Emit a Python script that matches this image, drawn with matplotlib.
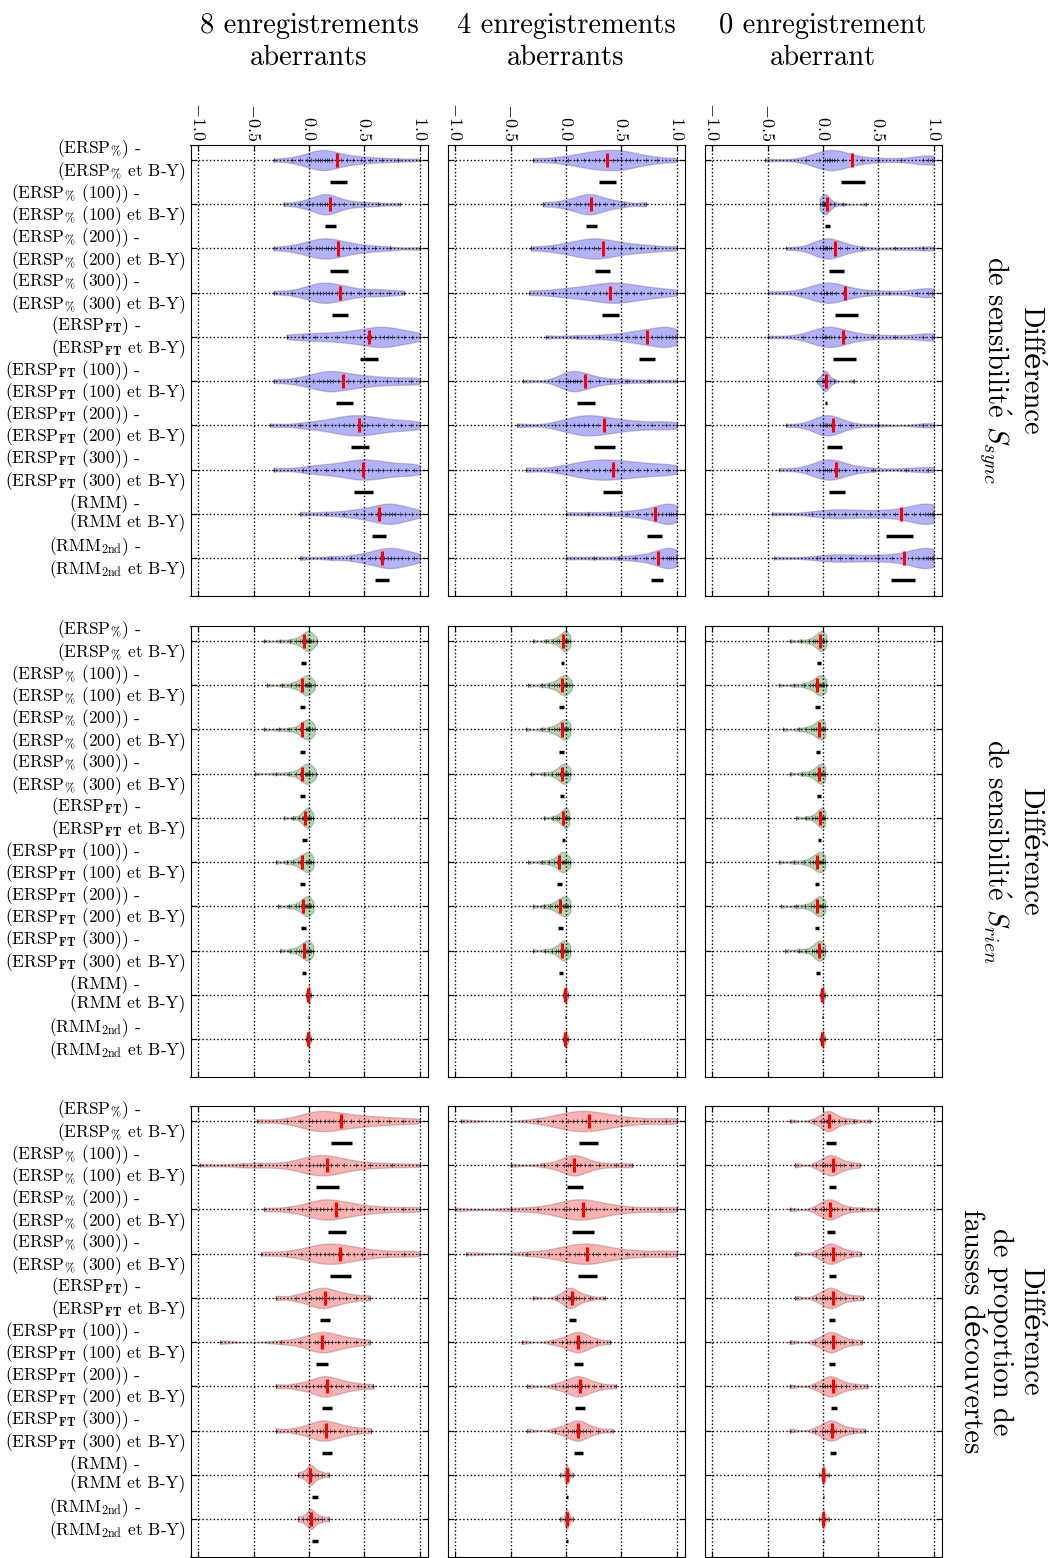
import numpy as np
import matplotlib.pyplot as plt
from matplotlib.transforms import ScaledTranslation

plt.rcParams['font.family'] = ['cmr10', 'DejaVu Serif']
plt.rcParams['mathtext.fontset'] = 'cm'
plt.rcParams['axes.formatter.use_mathtext'] = True

col_titles = ['8 enregistrements\naberrants', '4 enregistrements\naberrants', '0 enregistrement\naberrant']
row_titles = ['Différence\nde sensibilit$\\acute{\\mathrm{e}}$ $S_{sync}$',
              'Différence\nde sensibilit$\\acute{\\mathrm{e}}$ $S_{rien}$',
              'Différence\nde proportion de\nfausses découvertes']
methods = [r'ERSP$_{\%}$', r'ERSP$_{\%}$ (100)', r'ERSP$_{\%}$ (200)', r'ERSP$_{\%}$ (300)',
           r'ERSP$_{\mathbf{FT}}$', r'ERSP$_{\mathbf{FT}}$ (100)', r'ERSP$_{\mathbf{FT}}$ (200)',
           r'ERSP$_{\mathbf{FT}}$ (300)', 'RMM', r'RMM$_{\mathrm{2nd}}$']

# --- sensibilite S_sync ---
sync_8 = [
    [-0.32, -0.15, -0.08, -0.02, 0.02, 0.05, 0.08, 0.1, 0.12, 0.14, 0.16, 0.18, 0.21, 0.25, 0.29, 0.34, 0.4, 0.47, 0.55, 0.66, 0.8, 1.0],
    [-0.23, -0.08, -0.02, 0.03, 0.07, 0.1, 0.12, 0.14, 0.16, 0.18, 0.2, 0.23, 0.27, 0.32, 0.4, 0.5, 0.62, 0.82],
    [-0.32, -0.16, -0.08, -0.02, 0.02, 0.06, 0.09, 0.12, 0.15, 0.17, 0.2, 0.23, 0.27, 0.31, 0.36, 0.42, 0.5, 0.6, 0.73, 1.0],
    [-0.32, -0.15, -0.06, 0.0, 0.04, 0.07, 0.1, 0.13, 0.15, 0.18, 0.21, 0.25, 0.29, 0.33, 0.38, 0.45, 0.55, 0.64, 0.72, 0.86],
    [-0.2, -0.05, 0.05, 0.15, 0.25, 0.33, 0.4, 0.46, 0.52, 0.56, 0.6, 0.64, 0.68, 0.71, 0.75, 0.8, 0.86, 0.93, 1.0],
    [-0.32, -0.12, -0.03, 0.04, 0.09, 0.13, 0.16, 0.19, 0.22, 0.26, 0.3, 0.35, 0.4, 0.46, 0.53, 0.6, 0.7, 0.8, 0.92, 1.0],
    [-0.35, -0.08, 0.05, 0.14, 0.21, 0.27, 0.32, 0.36, 0.4, 0.44, 0.48, 0.52, 0.57, 0.62, 0.68, 0.75, 0.83, 0.92, 1.0],
    [-0.32, -0.05, 0.06, 0.15, 0.23, 0.3, 0.36, 0.41, 0.45, 0.49, 0.53, 0.57, 0.62, 0.67, 0.73, 0.8, 0.88, 0.95, 1.0],
    [-0.08, 0.15, 0.32, 0.42, 0.5, 0.56, 0.61, 0.65, 0.69, 0.72, 0.75, 0.78, 0.82, 0.87, 0.93, 1.0],
    [-0.08, 0.2, 0.38, 0.48, 0.55, 0.6, 0.64, 0.68, 0.71, 0.74, 0.77, 0.8, 0.84, 0.89, 0.95, 1.0],
]
sync_8_mean = [0.25, 0.19, 0.26, 0.28, 0.54, 0.31, 0.45, 0.49, 0.63, 0.66]
sync_8_lo = [0.19, 0.145, 0.19, 0.21, 0.46, 0.24, 0.38, 0.41, 0.565, 0.595]
sync_8_hi = [0.34, 0.245, 0.35, 0.35, 0.62, 0.40, 0.54, 0.58, 0.695, 0.725]

sync_4 = [
    [-0.3, -0.1, 0.02, 0.1, 0.16, 0.21, 0.26, 0.3, 0.34, 0.38, 0.42, 0.46, 0.5, 0.54, 0.58, 0.64, 0.72, 0.82, 1.0],
    [-0.21, -0.06, 0.03, 0.09, 0.13, 0.17, 0.2, 0.23, 0.26, 0.3, 0.35, 0.42, 0.52, 0.72],
    [-0.32, -0.12, -0.02, 0.06, 0.12, 0.17, 0.21, 0.25, 0.29, 0.33, 0.38, 0.43, 0.5, 0.58, 0.68, 0.8, 1.0],
    [-0.33, -0.12, 0.0, 0.1, 0.18, 0.25, 0.31, 0.36, 0.41, 0.45, 0.5, 0.55, 0.61, 0.68, 0.76, 0.86, 1.0],
    [-0.18, 0.1, 0.3, 0.45, 0.55, 0.62, 0.68, 0.73, 0.78, 0.82, 0.86, 0.9, 0.93, 0.96, 0.98, 1.0],
    [-0.39, -0.06, 0.0, 0.02, 0.04, 0.06, 0.08, 0.1, 0.13, 0.17, 0.22, 0.3, 0.4, 0.55, 0.75, 1.0],
    [-0.44, -0.1, 0.0, 0.07, 0.12, 0.16, 0.2, 0.24, 0.29, 0.34, 0.4, 0.47, 0.55, 0.65, 0.78, 0.9, 1.0],
    [-0.36, -0.08, 0.05, 0.13, 0.19, 0.25, 0.3, 0.35, 0.4, 0.46, 0.52, 0.58, 0.65, 0.73, 0.82, 0.92, 1.0],
    [0.0, 0.2, 0.4, 0.55, 0.65, 0.72, 0.78, 0.83, 0.87, 0.9, 0.93, 0.95, 0.97, 0.99, 1.0],
    [0.0, 0.25, 0.48, 0.62, 0.72, 0.79, 0.84, 0.88, 0.91, 0.93, 0.95, 0.97, 0.99, 1.0],
]
sync_4_mean = [0.37, 0.23, 0.33, 0.40, 0.73, 0.17, 0.34, 0.42, 0.80, 0.83]
sync_4_lo = [0.30, 0.18, 0.265, 0.325, 0.66, 0.10, 0.25, 0.33, 0.73, 0.77]
sync_4_hi = [0.45, 0.28, 0.40, 0.48, 0.80, 0.26, 0.44, 0.51, 0.87, 0.88]

sync_0 = [
    [-0.52, -0.15, -0.04, 0.02, 0.04, 0.05, 0.06, 0.08, 0.1, 0.13, 0.18, 0.25, 0.35, 0.5, 0.7, 0.9, 0.95, 0.98, 1.0],
    [-0.03, -0.01, 0.0, 0.01, 0.01, 0.02, 0.02, 0.03, 0.04, 0.06, 0.1, 0.18, 0.39],
    [-0.33, -0.1, -0.03, 0.0, 0.02, 0.03, 0.04, 0.05, 0.07, 0.1, 0.15, 0.22, 0.35, 0.65, 0.9, 1.0],
    [-0.5, -0.2, -0.08, -0.02, 0.01, 0.03, 0.04, 0.06, 0.08, 0.12, 0.18, 0.28, 0.4, 0.6, 0.85, 0.95, 0.98, 1.0],
    [-0.5, -0.18, -0.06, -0.01, 0.02, 0.03, 0.05, 0.07, 0.1, 0.14, 0.2, 0.3, 0.45, 0.65, 0.9, 0.98, 1.0],
    [-0.05, -0.01, 0.0, 0.01, 0.02, 0.02, 0.03, 0.04, 0.06, 0.1, 0.28],
    [-0.33, -0.1, -0.03, 0.0, 0.02, 0.03, 0.04, 0.05, 0.07, 0.1, 0.15, 0.25, 0.5, 0.9, 1.0],
    [-0.4, -0.14, -0.04, 0.0, 0.02, 0.04, 0.05, 0.07, 0.1, 0.14, 0.2, 0.3, 0.45, 0.75, 0.95, 1.0],
    [-0.46, -0.1, 0.05, 0.1, 0.2, 0.3, 0.42, 0.55, 0.65, 0.75, 0.82, 0.88, 0.92, 0.95, 0.97, 0.98, 0.99, 1.0],
    [-0.44, -0.05, 0.07, 0.15, 0.25, 0.38, 0.5, 0.62, 0.72, 0.8, 0.86, 0.9, 0.93, 0.95, 0.97, 0.98, 0.99, 1.0],
]
sync_0_mean = [0.26, 0.04, 0.11, 0.20, 0.18, 0.03, 0.09, 0.12, 0.70, 0.73]
sync_0_lo = [0.16, 0.02, 0.05, 0.11, 0.09, 0.02, 0.04, 0.05, 0.57, 0.61]
sync_0_hi = [0.38, 0.06, 0.19, 0.32, 0.30, 0.04, 0.17, 0.20, 0.81, 0.83]

# --- sensibilite S_rien ---
rien_8 = [
    [-0.41, -0.26, -0.17, -0.12, -0.08, -0.06, -0.04, -0.03, -0.02, -0.01, 0.0, 0.0, 0.01, 0.02, 0.04, 0.07],
    [-0.38, -0.24, -0.16, -0.12, -0.09, -0.07, -0.05, -0.04, -0.03, -0.02, -0.01, 0.0, 0.01, 0.02, 0.05],
    [-0.41, -0.27, -0.18, -0.12, -0.08, -0.06, -0.05, -0.03, -0.02, -0.01, 0.0, 0.0, 0.01, 0.03, 0.05],
    [-0.49, -0.3, -0.18, -0.12, -0.08, -0.06, -0.04, -0.03, -0.02, -0.01, 0.0, 0.0, 0.01, 0.03, 0.06],
    [-0.23, -0.14, -0.09, -0.06, -0.05, -0.04, -0.03, -0.02, -0.01, 0.0, 0.0, 0.01, 0.02, 0.04],
    [-0.3, -0.2, -0.14, -0.1, -0.08, -0.06, -0.05, -0.03, -0.02, -0.01, 0.0, 0.01, 0.02, 0.04],
    [-0.28, -0.18, -0.12, -0.09, -0.07, -0.05, -0.04, -0.03, -0.02, -0.01, 0.0, 0.01, 0.02, 0.04],
    [-0.26, -0.17, -0.12, -0.09, -0.07, -0.05, -0.04, -0.03, -0.02, -0.01, 0.0, 0.01, 0.02, 0.04],
    [-0.03, -0.02, -0.01, -0.01, 0.0, 0.0, 0.0, 0.01, 0.02],
    [-0.03, -0.02, -0.01, -0.01, 0.0, 0.0, 0.0, 0.01, 0.02],
]
rien_8_mean = [-0.045, -0.06, -0.06, -0.06, -0.035, -0.06, -0.05, -0.045, -0.005, -0.005]
rien_8_lo = [-0.07, -0.08, -0.08, -0.08, -0.06, -0.08, -0.07, -0.065, -0.01, -0.01]
rien_8_hi = [-0.03, -0.04, -0.04, -0.04, -0.02, -0.04, -0.03, -0.03, 0.0, 0.0]

rien_4 = [
    [-0.3, -0.18, -0.12, -0.08, -0.06, -0.04, -0.03, -0.02, -0.01, 0.0, 0.0, 0.01, 0.02, 0.04],
    [-0.34, -0.22, -0.15, -0.11, -0.08, -0.06, -0.04, -0.03, -0.02, -0.01, 0.0, 0.01, 0.03, 0.05],
    [-0.36, -0.22, -0.15, -0.11, -0.08, -0.06, -0.04, -0.03, -0.02, -0.01, 0.0, 0.01, 0.02, 0.04],
    [-0.32, -0.2, -0.13, -0.09, -0.07, -0.05, -0.04, -0.03, -0.02, -0.01, 0.0, 0.01, 0.02, 0.04],
    [-0.2, -0.12, -0.08, -0.06, -0.04, -0.03, -0.02, -0.01, 0.0, 0.0, 0.01, 0.02, 0.03],
    [-0.34, -0.22, -0.15, -0.11, -0.08, -0.06, -0.05, -0.04, -0.03, -0.02, -0.01, 0.0, 0.02, 0.04],
    [-0.3, -0.2, -0.14, -0.1, -0.08, -0.06, -0.05, -0.03, -0.02, -0.01, 0.0, 0.01, 0.02, 0.04],
    [-0.3, -0.19, -0.13, -0.09, -0.07, -0.05, -0.04, -0.03, -0.02, -0.01, 0.0, 0.01, 0.02, 0.04],
    [-0.03, -0.02, -0.01, -0.01, 0.0, 0.0, 0.0, 0.01, 0.02],
    [-0.03, -0.02, -0.01, -0.01, 0.0, 0.0, 0.0, 0.01, 0.02],
]
rien_4_mean = [-0.03, -0.04, -0.04, -0.035, -0.025, -0.06, -0.05, -0.04, -0.005, -0.005]
rien_4_lo = [-0.045, -0.06, -0.06, -0.05, -0.04, -0.08, -0.07, -0.06, -0.01, -0.01]
rien_4_hi = [-0.015, -0.02, -0.02, -0.02, -0.01, -0.04, -0.03, -0.025, 0.0, 0.0]

rien_0 = [
    [-0.3, -0.2, -0.13, -0.09, -0.07, -0.05, -0.04, -0.03, -0.02, -0.01, 0.0, 0.0, 0.01, 0.03],
    [-0.4, -0.26, -0.17, -0.12, -0.09, -0.07, -0.05, -0.04, -0.03, -0.02, -0.01, 0.0, 0.01, 0.03],
    [-0.36, -0.22, -0.15, -0.11, -0.08, -0.06, -0.04, -0.03, -0.02, -0.01, 0.0, 0.01, 0.02],
    [-0.3, -0.19, -0.13, -0.09, -0.07, -0.05, -0.04, -0.03, -0.02, -0.01, 0.0, 0.01, 0.02],
    [-0.24, -0.15, -0.1, -0.07, -0.05, -0.04, -0.03, -0.02, -0.01, 0.0, 0.0, 0.01, 0.02],
    [-0.4, -0.26, -0.17, -0.12, -0.09, -0.07, -0.05, -0.04, -0.03, -0.02, -0.01, 0.0, 0.02],
    [-0.38, -0.24, -0.16, -0.11, -0.08, -0.06, -0.05, -0.04, -0.03, -0.02, -0.01, 0.0, 0.02],
    [-0.34, -0.22, -0.15, -0.1, -0.08, -0.06, -0.05, -0.04, -0.03, -0.02, -0.01, 0.0, 0.02],
    [-0.03, -0.02, -0.01, -0.01, 0.0, 0.0, 0.0, 0.01, 0.02],
    [-0.03, -0.02, -0.01, -0.01, 0.0, 0.0, 0.0, 0.01, 0.02],
]
rien_0_mean = [-0.03, -0.05, -0.04, -0.035, -0.03, -0.05, -0.05, -0.04, -0.005, -0.005]
rien_0_lo = [-0.05, -0.07, -0.06, -0.05, -0.045, -0.07, -0.07, -0.06, -0.01, -0.01]
rien_0_hi = [-0.015, -0.03, -0.025, -0.02, -0.015, -0.035, -0.035, -0.025, 0.0, 0.0]

# --- proportion de fausses decouvertes ---
fdr_8 = [
    [-0.47, -0.2, -0.08, 0.0, 0.03, 0.06, 0.1, 0.14, 0.18, 0.22, 0.27, 0.32, 0.38, 0.45, 0.53, 0.62, 0.72, 0.85, 1.0],
    [-0.98, -0.6, -0.44, -0.2, -0.08, 0.0, 0.04, 0.07, 0.1, 0.13, 0.16, 0.2, 0.25, 0.32, 0.42, 0.55, 0.75, 1.0],
    [-0.41, -0.18, -0.06, 0.02, 0.06, 0.1, 0.13, 0.16, 0.2, 0.24, 0.28, 0.33, 0.39, 0.46, 0.55, 0.68, 0.85, 1.0],
    [-0.43, -0.2, -0.07, 0.01, 0.06, 0.1, 0.14, 0.18, 0.22, 0.26, 0.3, 0.35, 0.41, 0.48, 0.57, 0.7, 0.86, 1.0],
    [-0.3, -0.12, -0.04, 0.02, 0.06, 0.09, 0.12, 0.15, 0.18, 0.22, 0.27, 0.33, 0.42, 0.55],
    [-0.8, -0.25, -0.08, 0.0, 0.05, 0.08, 0.11, 0.14, 0.17, 0.21, 0.26, 0.33, 0.42, 0.55],
    [-0.3, -0.12, -0.03, 0.04, 0.08, 0.11, 0.14, 0.17, 0.2, 0.24, 0.29, 0.35, 0.44, 0.58],
    [-0.3, -0.12, -0.03, 0.03, 0.07, 0.1, 0.13, 0.16, 0.19, 0.23, 0.28, 0.34, 0.43, 0.56],
    [-0.1, -0.05, -0.02, 0.0, 0.01, 0.02, 0.03, 0.05, 0.08, 0.12, 0.18],
    [-0.1, -0.05, -0.02, 0.0, 0.01, 0.02, 0.03, 0.05, 0.08, 0.12, 0.18],
]
fdr_8_mean = [0.29, 0.16, 0.24, 0.28, 0.14, 0.12, 0.16, 0.15, 0.01, 0.02]
fdr_8_lo = [0.20, 0.06, 0.17, 0.19, 0.10, 0.06, 0.12, 0.12, 0.03, 0.03]
fdr_8_hi = [0.39, 0.27, 0.33, 0.38, 0.19, 0.17, 0.21, 0.21, 0.08, 0.08]

fdr_4 = [
    [-0.95, -0.25, -0.12, -0.04, 0.02, 0.06, 0.1, 0.14, 0.18, 0.22, 0.26, 0.31, 0.37, 0.45, 0.55, 0.7, 0.9, 1.0],
    [-0.5, -0.2, -0.08, -0.02, 0.02, 0.04, 0.06, 0.08, 0.1, 0.13, 0.17, 0.22, 0.3, 0.45, 0.6],
    [-1.0, -0.5, -0.25, -0.1, -0.02, 0.03, 0.07, 0.1, 0.14, 0.18, 0.22, 0.27, 0.34, 0.45, 0.6, 0.85, 1.0],
    [-0.9, -0.35, -0.15, -0.05, 0.03, 0.08, 0.12, 0.16, 0.2, 0.24, 0.29, 0.35, 0.43, 0.55, 0.7, 0.9, 1.0],
    [-0.3, -0.08, -0.03, 0.0, 0.02, 0.03, 0.04, 0.05, 0.07, 0.09, 0.12, 0.16, 0.22, 0.35],
    [-0.4, -0.12, -0.04, 0.01, 0.04, 0.07, 0.09, 0.11, 0.13, 0.15, 0.18, 0.22, 0.28, 0.4],
    [-0.35, -0.1, -0.03, 0.02, 0.05, 0.08, 0.1, 0.12, 0.14, 0.17, 0.2, 0.25, 0.32, 0.45],
    [-0.35, -0.1, -0.03, 0.02, 0.05, 0.07, 0.09, 0.11, 0.13, 0.15, 0.18, 0.22, 0.29, 0.42],
    [-0.05, -0.01, 0.0, 0.0, 0.01, 0.01, 0.02, 0.03, 0.06],
    [-0.05, -0.01, 0.0, 0.0, 0.01, 0.01, 0.02, 0.03, 0.06],
]
fdr_4_mean = [0.21, 0.07, 0.15, 0.19, 0.05, 0.11, 0.13, 0.11, 0.01, 0.01]
fdr_4_lo = [0.12, 0.01, 0.05, 0.11, 0.03, 0.07, 0.08, 0.07, 0.0, 0.0]
fdr_4_hi = [0.29, 0.15, 0.25, 0.28, 0.09, 0.15, 0.17, 0.15, 0.02, 0.02]

fdr_0 = [
    [-0.3, -0.08, -0.02, 0.01, 0.03, 0.04, 0.05, 0.06, 0.08, 0.1, 0.14, 0.2, 0.28, 0.42],
    [-0.25, -0.06, -0.01, 0.02, 0.04, 0.06, 0.08, 0.1, 0.12, 0.15, 0.19, 0.25, 0.33],
    [-0.3, -0.07, -0.02, 0.01, 0.03, 0.05, 0.06, 0.08, 0.1, 0.13, 0.17, 0.24, 0.35, 0.5],
    [-0.25, -0.06, -0.01, 0.02, 0.04, 0.06, 0.08, 0.1, 0.12, 0.15, 0.19, 0.25, 0.34],
    [-0.25, -0.06, -0.01, 0.02, 0.04, 0.06, 0.08, 0.1, 0.12, 0.15, 0.2, 0.27, 0.36],
    [-0.3, -0.07, -0.01, 0.02, 0.04, 0.06, 0.08, 0.1, 0.12, 0.15, 0.19, 0.26, 0.35],
    [-0.3, -0.07, -0.01, 0.02, 0.04, 0.06, 0.08, 0.1, 0.12, 0.16, 0.21, 0.29, 0.4],
    [-0.3, -0.07, -0.01, 0.02, 0.04, 0.06, 0.08, 0.1, 0.12, 0.15, 0.2, 0.27, 0.38],
    [-0.04, -0.01, 0.0, 0.0, 0.0, 0.01, 0.01, 0.02, 0.05],
    [-0.04, -0.01, 0.0, 0.0, 0.0, 0.01, 0.01, 0.02, 0.05],
]
fdr_0_mean = [0.05, 0.09, 0.06, 0.09, 0.09, 0.09, 0.09, 0.08, 0.0, 0.0]
fdr_0_lo = [0.03, 0.05, 0.04, 0.05, 0.05, 0.05, 0.07, 0.06, 0.0, 0.0]
fdr_0_hi = [0.12, 0.12, 0.11, 0.12, 0.11, 0.11, 0.13, 0.12, 0.01, 0.01]

grid_data = [
    [(sync_8, sync_8_mean, sync_8_lo, sync_8_hi), (sync_4, sync_4_mean, sync_4_lo, sync_4_hi), (sync_0, sync_0_mean, sync_0_lo, sync_0_hi)],
    [(rien_8, rien_8_mean, rien_8_lo, rien_8_hi), (rien_4, rien_4_mean, rien_4_lo, rien_4_hi), (rien_0, rien_0_mean, rien_0_lo, rien_0_hi)],
    [(fdr_8, fdr_8_mean, fdr_8_lo, fdr_8_hi), (fdr_4, fdr_4_mean, fdr_4_lo, fdr_4_hi), (fdr_0, fdr_0_mean, fdr_0_lo, fdr_0_hi)],
]
row_colors = ['b', 'g', 'r']

W, H = 1058, 1558
fig = plt.figure(figsize=(W / 100, H / 100), dpi=100)

col_left = [190.5, 447.5, 704.5]
row_top = [145, 626, 1106]
pw, ph = 237, 451
pos = np.arange(10)
ylabels = ['(%s) -\n(%s et B-Y)' % (m, m) for m in methods]
lift = ScaledTranslation(0, 3 / 100, fig.dpi_scale_trans)

for r in range(3):
    for c in range(3):
        ax = fig.add_axes([col_left[c] / W, 1 - (row_top[r] + ph) / H, pw / W, ph / H])
        samples, mean, lo, hi = grid_data[r][c]
        parts = ax.violinplot(samples, positions=pos, orientation='horizontal', widths=0.46,
                              showextrema=False, bw_method=0.3)
        for b in parts['bodies']:
            b.set_facecolor(row_colors[r])
            b.set_alpha(0.3)
            b.set_edgecolor('#555555')
            b.set_linewidth(1.0)
        for i, s in enumerate(samples):
            ax.plot(s, [i] * len(s), '+', color='k', ms=3, mew=0.7, alpha=0.6, zorder=2)
        ax.vlines(mean, pos - 0.16, pos + 0.16, color='red', lw=2.2, zorder=4)
        ax.hlines(pos + 0.5, lo, hi, color='k', lw=2.5, zorder=4)

        ax.set_xlim(-1.07, 1.07)
        ax.set_ylim(9.86, -0.34)
        ax.set_xticks([-1.0, -0.5, 0.0, 0.5, 1.0])
        ax.set_yticks(pos)
        ax.grid(True, linestyle=':', color='k', linewidth=1)
        ax.set_axisbelow(False)
        ax.tick_params(direction='in', top=True, bottom=True, left=True, right=True,
                       length=4, labelsize=13)
        if r == 0:
            ax.tick_params(axis='x', labeltop=True, labelbottom=False, labelrotation=-90, pad=3)
        else:
            ax.tick_params(axis='x', labeltop=False, labelbottom=False)
        if c == 0:
            ax.set_yticklabels(ylabels, fontsize=12.5, linespacing=1.0, ha='right',
                               multialignment='left')
            for lab in ax.get_yticklabels():
                lab.set_transform(lab.get_transform() + lift)
        else:
            ax.set_yticklabels([])

for c in range(3):
    fig.text((col_left[c] + pw / 2) / W, 1 - 42 / H, col_titles[c], ha='center', va='center',
             fontsize=20.5, linespacing=1.25)
for r in range(3):
    fig.text(1043 / W, 1 - (row_top[r] + ph / 2) / H, row_titles[r], rotation=-90, ha='right',
             va='center', fontsize=20.5, linespacing=1.15, multialignment='center')

fig.savefig('out.png', dpi=100)
